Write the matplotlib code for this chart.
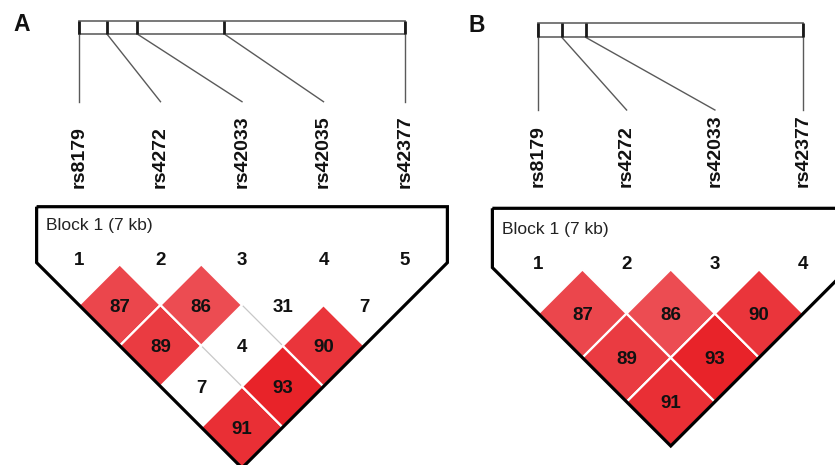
import matplotlib
matplotlib.use("Agg")
import matplotlib.pyplot as plt
from matplotlib.patches import Polygon, Rectangle

plt.rcParams['font.family'] = ['Liberation Sans', 'DejaVu Sans']

# ---------------- data ----------------
snps_A = ['rs8179', 'rs4272', 'rs42033', 'rs42035', 'rs42377']
pos_kb_A = [0.0, 0.6, 1.25, 3.12, 7.0]
# D' (x100) of marker i with markers i+1 .. n
dprime_A = [[87, 89, 7, 91],
            [86, 4, 93],
            [31, 90],
            [7]]
strong_A = [[1, 1, 0, 1],
            [1, 0, 1],
            [0, 1],
            [0]]

snps_B = ['rs8179', 'rs4272', 'rs42033', 'rs42377']
pos_kb_B = [0.0, 0.62, 1.25, 7.0]
dprime_B = [[87, 89, 91],
            [86, 93],
            [90]]
strong_B = [[1, 1, 1],
            [1, 1],
            [1]]

block_label = 'Block 1 (7 kb)'
panel_letters = ['A', 'B']

# ---------------- layout ----------------
layout_A = dict(x1=79, s=81.5, bar_top=20.7, bar_bot=34, line_bot=101.7, lab_bot=188,
                yc1=305, out_top=206.7, letter=(22, 24.5), block=(46, 225), num_y=260)
layout_B = dict(x1=538.3, s=88.3, bar_top=22.7, bar_bot=37.3, line_bot=110, lab_bot=187,
                yc1=313.5, out_top=208.3, letter=(477, 25.5), block=(501.7, 229.3), num_y=264)

fig = plt.figure(figsize=(8.35, 4.65), dpi=100)
ax = fig.add_axes([0, 0, 1, 1])
ax.set_xlim(0, 835)
ax.set_ylim(465, 0)
ax.axis('off')

TXT = '#111111'


def red_shade(v):
    g = max(0, min(255, 76 - (v - 86) * 5.8))
    r = 236 - (v - 86) * 0.6
    return (r / 255, g / 255, (g + 6) / 255)


def draw_panel(snps, pos, dp, strong, L, letter):
    n = len(snps)
    x1, s = L['x1'], L['s']
    xs = [x1 + k * s for k in range(n)]
    xn = xs[-1]
    h = s / 2

    # physical map bar
    span = pos[-1] - pos[0]
    phys = [x1 + (p - pos[0]) / span * (xn - x1) for p in pos]
    ax.add_patch(Rectangle((x1, L['bar_top']), xn - x1, L['bar_bot'] - L['bar_top'],
                           facecolor='white', edgecolor='#6e6e6e', lw=1.3, zorder=2))
    for px, lx in zip(phys, xs):
        ax.plot([px, px], [L['bar_top'], L['bar_bot']], color='#1a1a1a', lw=2.0,
                solid_capstyle='butt', zorder=3)
        ax.plot([px, lx], [L['bar_bot'], L['line_bot']], color='#5a5a5a', lw=1.0, zorder=2)
    for lx, name in zip(xs, snps):
        ax.text(lx, L['lab_bot'], name, rotation=90, ha='center', va='bottom',
                fontsize=14, fontweight='bold', color=TXT)

    # diamonds
    def geom(i, j):
        cx = (xs[i] + xs[j]) / 2
        cy = L['yc1'] + (j - i - 1) * h
        return cx, cy

    cells = {}
    for i in range(n - 1):
        for k, v in enumerate(dp[i]):
            j = i + 1 + k
            cells[(i, j)] = (v, strong[i][k])

    # white cells and faint borders between neighbouring white cells
    for (i, j), (v, st) in cells.items():
        cx, cy = geom(i, j)
        if not st:
            ax.add_patch(Polygon([(cx, cy - h), (cx + h, cy), (cx, cy + h), (cx - h, cy)],
                                 closed=True, facecolor='white', edgecolor='none', zorder=3))
            ll = cells.get((i - 1, j))
            if ll is not None and not ll[1]:
                ax.plot([cx - h, cx], [cy, cy + h], color='#c8c8c8', lw=0.9, zorder=4)
            lr = cells.get((i, j + 1))
            if lr is not None and not lr[1]:
                ax.plot([cx, cx + h], [cy + h, cy], color='#c8c8c8', lw=0.9, zorder=4)
    for (i, j), (v, st) in cells.items():
        cx, cy = geom(i, j)
        if st:
            ax.add_patch(Polygon([(cx, cy - h), (cx + h, cy), (cx, cy + h), (cx - h, cy)],
                                 closed=True, facecolor=red_shade(v), edgecolor='white',
                                 lw=1.6, joinstyle='miter', zorder=5))
        ax.text(cx, cy + 2, str(v), ha='center', va='center', fontsize=13.5,
                fontweight='bold', color=TXT, zorder=7)

    # outline
    d = 0.52 * s
    xc = (x1 + xn) / 2
    yb = L['yc1'] + (xc - x1)
    outline = [(x1 - d, L['out_top']), (x1 - d, L['yc1'] - d), (xc, yb),
               (xn + d, L['yc1'] - d), (xn + d, L['out_top'])]
    ax.add_patch(Polygon(outline, closed=True, facecolor='none', edgecolor='black',
                         lw=2.3, joinstyle='miter', zorder=6))

    # marker numbers
    for k, lx in enumerate(xs):
        ax.text(lx, L['num_y'], str(k + 1), ha='center', va='center', fontsize=13.5,
                fontweight='bold', color=TXT, zorder=7)

    ax.text(L['block'][0], L['block'][1], block_label, ha='left', va='center',
            fontsize=12.5, color='#222222', zorder=7)
    ax.text(L['letter'][0], L['letter'][1], letter, ha='center', va='center',
            fontsize=16.5, fontweight='bold', color=TXT)


draw_panel(snps_A, pos_kb_A, dprime_A, strong_A, layout_A, panel_letters[0])
draw_panel(snps_B, pos_kb_B, dprime_B, strong_B, layout_B, panel_letters[1])

fig.savefig('out.png', dpi=100)
